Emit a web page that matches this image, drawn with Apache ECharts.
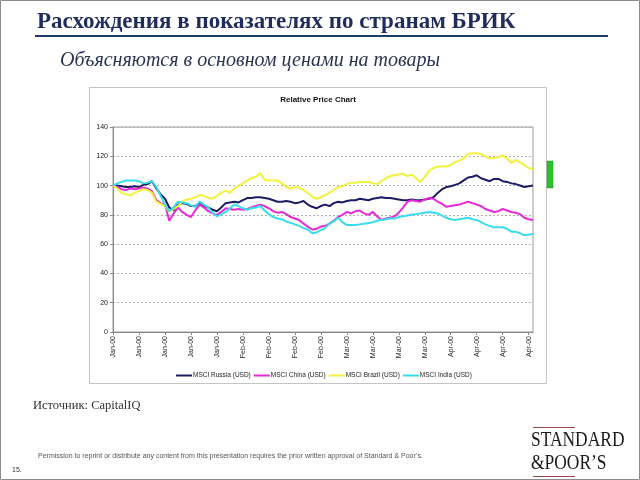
<!DOCTYPE html>
<html><head><meta charset="utf-8">
<script src="https://cdn.jsdelivr.net/npm/echarts@6/dist/echarts.min.js"></script>
<style>html,body{margin:0;padding:0;background:#fff}#c{width:640px;height:480px}</style>
</head><body><div id="c"></div>
<script>
const tickLabels = ['Jan-00','Jan-00','Jan-00','Jan-00','Jan-00','Feb-00','Feb-00','Feb-00','Feb-00','Mar-00','Mar-00','Mar-00','Mar-00','Apr-00','Apr-00','Apr-00','Apr-00'];
const seriesNames = ['MSCI Russia (USD)','MSCI China (USD)','MSCI Brazil (USD)','MSCI India (USD)'];
const russia = [100,100,99.5,99,99,99.5,99,100.5,101,103,98,94,91,85,83,87,88,87.5,86,86,88,86,85,83.5,82.5,85,88,88.5,89,88.5,90,91.5,91.5,92,92,91.5,91,90,89,89,89.5,89,88,88.5,89.5,87,85.5,84.5,86,87,86,88,89,88.5,89.5,90,90,91,90.5,90,91,91.5,92,91.5,91.5,91,90.5,90,90,90.5,90,90,90.5,91,92,95,97.5,99,99.5,100.5,101.5,103.5,105.5,106,107,105,104,103,104.5,104.5,103,102.5,101.5,101,100,99,99.5,100];
const china = [100,99,97.5,97,98,97.5,98,98.5,98,96,90,88,87,76,81,85,82,80,78.5,83,87,85,82.5,81,80,82,84.5,84,83.5,84,83.5,84,85,86,87,86,84.5,82.5,81.5,82,80.5,78.5,77.5,76.5,74,72,70,70.5,72,72.5,74,76,78.5,80,82,81,82.5,83,81,80,82,79,76.5,77.5,78,79,81.5,85,89,90,89.5,89,90.5,91.5,91,89,87.5,85.5,86,86.5,87,88,89,88,87,86,84,83,82,82.5,84,83,82,81.5,80.5,78,77,76.5];
const brazil = [100,98,95,94,93.5,95,96.5,97.5,97,95,89,87.5,86,82,84,86,89,90.5,91,92,93.5,93,91.5,91,93,95,96.5,95,98,100,101.5,103.5,105,106,108.5,104,103.5,103.5,103.5,101.5,99,98,99,98.5,97,95,92.5,91,92,93.5,95,97,99,99.5,101,102,102,102.5,102.5,102.5,101.5,101,103,105,106.5,107,107.5,108,106.5,107.5,105,102.5,106,110,112,113,113,113,114,116,117,118.5,121.5,122,122,121.5,120,118.5,119,119.5,120.5,118.5,115.5,117.5,116,114,112,111];
const india = [100,101.5,102.5,103.5,103.5,103.5,103,101.5,102,103,99,93,87,82.5,85,89,88.5,88,86.5,85.5,89,87,85,81.5,79,80.5,82,84.5,87,86,84.5,83.5,84.5,85,86,83,80.5,78.5,77.5,77,75.5,74.5,73.5,72.5,71,70,67.5,68,69.5,71,74,75.5,78,75,73,73,73,73.5,74,74.5,75,76,76.5,77,77.5,77.5,78.5,79,79.5,80,80.5,81,81.5,82,81.5,81,79.5,78,77,76.5,77,77.5,78,77,76.5,75,73.5,72.5,71.5,71.5,71.5,70.5,68.5,68.5,67.5,66,66.5,67];
const colors = ['#1c1c64','#e62ad8','#f2f23c','#3adcec'];

const categories = russia.map((_, i) => tickLabels[Math.min(tickLabels.length - 1, Math.floor(i / 6))]);
const seriesData = [russia, china, brazil, india];

const chart = echarts.init(document.getElementById('c'), null, {renderer: 'canvas'});
chart.setOption({
  animation: false,
  backgroundColor: '#ffffff',
  color: colors,
  grid: {left: 113, right: 107, top: 127, bottom: 148, show: true, borderColor: '#9a9a9a', borderWidth: 1, backgroundColor: 'transparent'},
  xAxis: {
    type: 'category', data: categories, boundaryGap: false,
    axisLine: {lineStyle: {color: '#8a8a8a'}},
    axisTick: {interval: 5, length: 3, lineStyle: {color: '#8a8a8a'}},
    axisLabel: {interval: 5, rotate: 90, fontSize: 7, color: '#222', fontFamily: 'Liberation Sans', margin: 4},
    splitLine: {show: false}
  },
  yAxis: {
    type: 'value', min: 0, max: 140, interval: 20,
    axisLine: {show: true, lineStyle: {color: '#8a8a8a'}},
    axisTick: {show: true, length: 3, lineStyle: {color: '#8a8a8a'}},
    axisLabel: {fontSize: 7, color: '#222', fontFamily: 'Liberation Sans', margin: 5},
    splitLine: {lineStyle: {color: '#b0b0b0', type: [2, 2], width: 1}}
  },
  legend: {
    left: 176, top: 372, padding: 0, itemWidth: 16, itemHeight: 2, itemGap: 3, icon: 'rect',
    textStyle: {fontSize: 6.5, color: '#222', fontFamily: 'Liberation Sans', padding: [0,0,0,-4]},
    data: seriesNames
  },
  series: seriesNames.map((n, k) => ({
    name: n, type: 'line', data: seriesData[k], symbol: 'none', smooth: false,
    lineStyle: {width: 2, color: colors[k]}, itemStyle: {color: colors[k]}
  })),
  graphic: [
    {type: 'rect', shape: {x: 0.5, y: 0.5, width: 639, height: 479}, style: {fill: 'none', stroke: '#8c8c8c', lineWidth: 1}, z: -10},
    {type: 'text', x: 37, y: 11, style: {text: 'Расхождения в показателях по странам БРИК', font: 'bold 23px "Liberation Serif"', fill: '#1f2d5c'}},
    {type: 'rect', shape: {x: 35, y: 35, width: 573, height: 2}, style: {fill: '#1f3a6e'}},
    {type: 'text', x: 60, y: 51, style: {text: 'Объясняются в основном ценами на товары', font: 'italic 20px "Liberation Serif"', fill: '#2a3550'}},
    {type: 'rect', shape: {x: 89.5, y: 87.5, width: 457, height: 296}, style: {fill: 'none', stroke: '#c4c4c4', lineWidth: 1}, z: -5},
    {type: 'text', x: 318, y: 96, style: {text: 'Relative Price Chart', font: 'bold 8px "Liberation Sans"', fill: '#111', textAlign: 'center'}},
    {type: 'rect', shape: {x: 547, y: 161, width: 6, height: 27}, style: {fill: '#2ec02e', stroke: '#1e9a1e', lineWidth: 0.5}},
    {type: 'text', x: 33, y: 399, style: {text: 'Источник: CapitalIQ', font: '12.5px "Liberation Serif"', fill: '#333'}},
    {type: 'text', x: 38, y: 453, style: {text: 'Permission to reprint or distribute any content from this presentation requires the prior written approval of Standard & Poor\u2019s.', font: '7px "Liberation Sans"', fill: '#555'}},
    {type: 'text', x: 12, y: 467, style: {text: '15.', font: '7px "Liberation Sans"', fill: '#333'}},
    {type: 'rect', shape: {x: 533, y: 427, width: 42, height: 1}, style: {fill: '#9a4a4a'}},
    {type: 'text', x: 531, y: 430, scaleX: 0.83, style: {text: 'STANDARD', font: '21px "Liberation Serif"', fill: '#1a1a1a'}},
    {type: 'text', x: 531, y: 453, scaleX: 0.83, style: {text: '&POOR\u2019S', font: '21px "Liberation Serif"', fill: '#1a1a1a'}},
    {type: 'rect', shape: {x: 533, y: 476, width: 42, height: 1}, style: {fill: '#9a4a4a'}}
  ]
});
</script>
</body></html>
